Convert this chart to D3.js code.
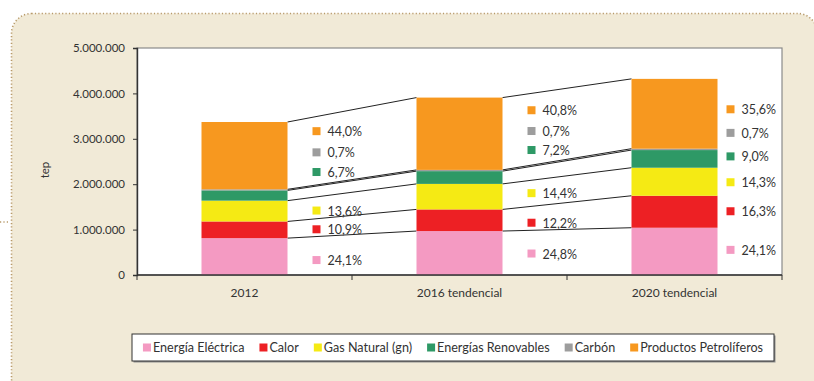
<!DOCTYPE html>
<html>
<head>
<meta charset="utf-8">
<script src="https://cdn.jsdelivr.net/npm/d3@7"></script>
<style>
  html, body { margin: 0; padding: 0; background: #ffffff; }
  svg { display: block; font-family: Lato, "Open Sans", sans-serif; }
</style>
</head>
<body>
<svg id="chart" width="814" height="381"></svg>
<script>
// Consumo de energía final por fuente (tep)
const categories = ["2012", "2016 tendencial", "2020 tendencial"];
const totals = [3370000, 3904000, 4320000];

const seriesNames = ["Energía Eléctrica", "Calor", "Gas Natural (gn)", "Energías Renovables", "Carbón", "Productos Petrolíferos"];
const seriesColors = ["#f49ac2", "#ed2024", "#f5ea14", "#2e9966", "#9d9d9d", "#f7981f"];

// share of each source in the yearly total (%)
const energiaElectrica = [24.1, 24.8, 24.1];
const calor = [10.9, 12.2, 16.3];
const gasNatural = [13.6, 14.4, 14.3];
const renovables = [6.7, 7.2, 9.0];
const carbon = [0.7, 0.7, 0.7];
const petroliferos = [44.0, 40.8, 35.6];

const yTicks = [0, 1000000, 2000000, 3000000, 4000000, 5000000];

const shares = [energiaElectrica, calor, gasNatural, renovables, carbon, petroliferos];

// small vertical nudges (px) that keep the percentage tags apart
const labelNudge = [
  [4, 0, 0, -23, -37, -24],
  [1, 3, -3, -27, -39, -23],
  [-1, 0, 1, -2, -16, -4]
];

const es = d3.formatLocale({ decimal: ",", thousands: ".", grouping: [3], currency: ["", "€"] });
const fmtInt = es.format(",d");
const fmtPct = v => es.format(".1f")(v) + "%";

const svg = d3.select("#chart");

// framed panel
svg.append("rect")
  .attr("x", 11.5).attr("y", 13.5)
  .attr("width", 806).attr("height", 385)
  .attr("rx", 20).attr("ry", 20)
  .attr("fill", "#f1ead7")
  .attr("stroke", "#b89a6a")
  .attr("stroke-width", 1.6)
  .attr("stroke-dasharray", "1.2 2.2");
svg.append("line")
  .attr("x1", 0).attr("x2", 10).attr("y1", 222).attr("y2", 222)
  .attr("stroke", "#b89a6a").attr("stroke-width", 1.6)
  .attr("stroke-dasharray", "1.2 2.2");

const plot = { left: 137, right: 782, top: 48, bottom: 275 };

const x = d3.scaleBand()
  .domain(categories)
  .range([plot.left, plot.right])
  .paddingInner(0.6)
  .paddingOuter(0.3);

const y = d3.scaleLinear()
  .domain([0, 5000000])
  .range([plot.bottom, plot.top]);

// plot area
svg.append("rect")
  .attr("x", plot.left).attr("y", plot.top)
  .attr("width", plot.right - plot.left).attr("height", plot.bottom - plot.top)
  .attr("fill", "#ffffff")
  .attr("stroke", "#8a8a8a").attr("stroke-width", 1.2);

// stacked values
const rows = categories.map((c, i) => {
  const r = { category: c };
  seriesNames.forEach((s, j) => { r[s] = totals[i] * shares[j][i] / 100; });
  return r;
});
const stacked = d3.stack().keys(seriesNames)(rows);

// connecting lines between the stacks
const bw = x.bandwidth();
const connectors = svg.append("g");
for (let i = 0; i < categories.length - 1; i++) {
  stacked.forEach(layer => {
    const a = layer[i][1], b = layer[i + 1][1];
    connectors.append("line")
      .attr("x1", x(categories[i]) + bw).attr("y1", y(a))
      .attr("x2", x(categories[i + 1])).attr("y2", y(b))
      .attr("stroke", "#222").attr("stroke-width", 1);
  });
}

// bars
svg.append("g").selectAll("g")
  .data(stacked)
  .join("g")
  .attr("fill", (d, j) => seriesColors[j])
  .selectAll("rect")
  .data(d => d)
  .join("rect")
  .attr("x", d => x(d.data.category))
  .attr("y", d => y(d[1]))
  .attr("width", bw)
  .attr("height", d => y(d[0]) - y(d[1]));

// percentage tags
const tags = svg.append("g").attr("font-size", 12.5).attr("fill", "#333");
categories.forEach((c, i) => {
  const last = i === categories.length - 1;
  const sx = x(c) + bw + (last ? 9 : 25);
  stacked.forEach((layer, j) => {
    const mid = (y(layer[i][0]) + y(layer[i][1])) / 2 + labelNudge[i][j];
    tags.append("rect")
      .attr("x", sx).attr("y", mid - 4.5)
      .attr("width", 8).attr("height", 8)
      .attr("fill", seriesColors[j]);
    tags.append("text")
      .attr("x", sx + 15).attr("y", mid)
      .attr("dy", "0.36em")
      .text(fmtPct(shares[j][i]));
  });
});

// y axis
const yAxis = svg.append("g")
  .attr("transform", `translate(${plot.left},0)`)
  .call(d3.axisLeft(y).tickValues(yTicks).tickFormat(fmtInt).tickSize(4).tickPadding(8));
yAxis.select(".domain").attr("stroke", "#333").attr("stroke-width", 1.4);
yAxis.selectAll(".tick line").attr("stroke", "#333");
yAxis.selectAll("text").attr("font-size", 11.5).attr("fill", "#333").attr("font-family", "Lato, sans-serif");

svg.append("text")
  .attr("transform", "translate(49,170) rotate(-90)")
  .attr("text-anchor", "middle")
  .attr("font-size", 11.5).attr("fill", "#333")
  .text("tep");

// x axis
svg.append("line")
  .attr("x1", plot.left).attr("x2", plot.right)
  .attr("y1", plot.bottom).attr("y2", plot.bottom)
  .attr("stroke", "#333").attr("stroke-width", 1.4);
const bounds = d3.range(categories.length + 1).map(k => plot.left + k * (plot.right - plot.left) / categories.length);
svg.append("g").selectAll("line")
  .data(bounds)
  .join("line")
  .attr("x1", d => d).attr("x2", d => d)
  .attr("y1", plot.bottom).attr("y2", plot.bottom + 5)
  .attr("stroke", "#333");
svg.append("g").selectAll("text")
  .data(categories)
  .join("text")
  .attr("x", d => x(d) + bw / 2)
  .attr("y", 297)
  .attr("text-anchor", "middle")
  .attr("font-size", 12).attr("fill", "#333")
  .text(d => d);

// legend
const lg = { x: 132, y: 334, w: 642, h: 27 };
svg.append("rect")
  .attr("x", lg.x + 1.5).attr("y", lg.y + 1.5)
  .attr("width", lg.w).attr("height", lg.h)
  .attr("fill", "#8f8f8f");
svg.append("rect")
  .attr("x", lg.x).attr("y", lg.y)
  .attr("width", lg.w).attr("height", lg.h)
  .attr("fill", "#ffffff")
  .attr("stroke", "#333").attr("stroke-width", 1);

const legend = svg.append("g").attr("font-size", 12.6).attr("fill", "#333");
const items = [];
seriesNames.forEach((s, j) => {
  const g = legend.append("g");
  g.append("rect").attr("x", 0).attr("y", -4).attr("width", 8).attr("height", 8).attr("fill", seriesColors[j]);
  const t = g.append("text").attr("x", 10).attr("dy", "0.35em").text(s);
  items.push({ g, w: 10 + t.node().getComputedTextLength() });
});
const gap = 15;
const totalW = d3.sum(items, d => d.w) + gap * (items.length - 1);
let cx = lg.x + (lg.w - totalW) / 2;
items.forEach(it => {
  it.g.attr("transform", `translate(${cx},${lg.y + lg.h / 2})`);
  cx += it.w + gap;
});
</script>
</body>
</html>
